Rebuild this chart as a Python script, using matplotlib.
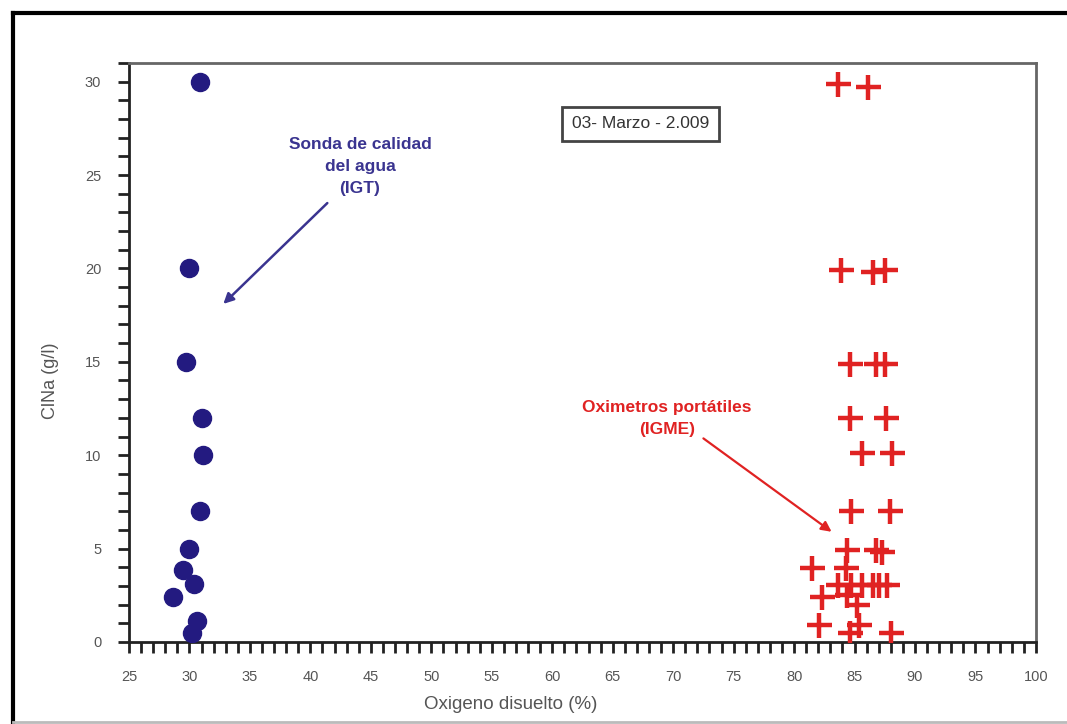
import matplotlib
matplotlib.use("Agg")
import matplotlib.pyplot as plt
from matplotlib.lines import Line2D
from matplotlib.ticker import MultipleLocator

plt.rcParams["font.family"] = ["Liberation Sans Narrow", "Liberation Sans", "DejaVu Sans"]

# Sonda de calidad del agua (IGT)
igt_oxygen = [30.9, 30.0, 29.7, 31.0, 31.1, 30.9, 30.0, 29.5, 30.4, 28.6, 30.6, 30.2]
igt_clna = [30.0, 20.0, 15.0, 12.0, 10.0, 7.0, 5.0, 3.85, 3.1, 2.4, 1.1, 0.5]

# Oximetros portatiles (IGME)
igme_oxygen = [83.6, 86.1,
               83.9, 86.5, 87.5,
               84.6, 86.8, 87.5,
               84.6, 87.6,
               85.6, 88.1,
               84.7, 87.9,
               84.4, 86.8, 87.3,
               81.5, 84.3,
               83.6, 84.7, 85.6, 86.5, 87.0, 87.7,
               82.3, 84.4, 85.2,
               82.1, 85.4, 84.6, 88.0]
igme_clna = [29.9, 29.7,
             19.9, 19.8, 19.9,
             14.9, 14.9, 14.9,
             12.0, 12.0,
             10.1, 10.1,
             7.0, 7.0,
             4.9, 4.9, 4.8,
             3.95, 3.95,
             3.05, 3.05, 3.05, 3.05, 3.05, 3.05,
             2.4, 2.5, 2.0,
             0.9, 0.9, 0.5, 0.5]

navy = "#231a80"
label_blue = "#3a3490"
red = "#e02222"
gray = "#555555"

fig = plt.figure(figsize=(10.67, 7.24), dpi=100)
ax = fig.add_axes([0.1209, 0.1133, 0.8500, 0.7997])

ax.plot(igt_oxygen, igt_clna, "o", ms=13, color=navy, mec=navy, zorder=3)
ax.plot(igme_oxygen, igme_clna, "+", ms=18, mew=3.2, color=red, zorder=3)

ax.set_xlim(25, 100)
ax.set_ylim(0, 31)
ax.xaxis.set_major_locator(MultipleLocator(5))
ax.xaxis.set_minor_locator(MultipleLocator(1))
ax.yaxis.set_major_locator(MultipleLocator(5))
ax.yaxis.set_minor_locator(MultipleLocator(1))
ax.tick_params(which="both", direction="out", length=8, width=2, color="#222222",
               labelcolor=gray, labelsize=10.5, top=False, right=False)
ax.tick_params(axis="x", pad=12)
ax.tick_params(axis="y", pad=12)
for side in ("left", "bottom"):
    ax.spines[side].set_linewidth(2)
    ax.spines[side].set_color("#222222")
for side in ("top", "right"):
    ax.spines[side].set_linewidth(2)
    ax.spines[side].set_color("#666666")

ax.set_xlabel("Oxigeno disuelto (%)", fontsize=13.5, color=gray)
ax.xaxis.set_label_coords(0.421, -0.093)
ax.set_ylabel("ClNa (g/l)", fontsize=13, color=gray)
ax.yaxis.set_label_coords(-0.077, 0.452)

# annotations: label text + arrow
ax.text(44.1, 25.45, "Sonda de calidad\ndel agua\n(IGT)", ha="center", va="center",
        fontsize=12.5, fontweight="bold", color=label_blue, linespacing=1.6)
ax.annotate("", xy=(32.8, 18.1), xytext=(41.4, 23.5),
            arrowprops=dict(arrowstyle="-|>", color=label_blue, lw=1.8,
                            mutation_scale=15, shrinkA=0, shrinkB=0))

ax.text(69.5, 11.95, "Oximetros portátiles\n(IGME)", ha="center", va="center",
        fontsize=12.5, fontweight="bold", color=red, linespacing=1.6)
ax.annotate("", xy=(83.1, 5.9), xytext=(72.5, 10.9),
            arrowprops=dict(arrowstyle="-|>", color=red, lw=1.6,
                            mutation_scale=15, shrinkA=0, shrinkB=0))

ax.text(67.3, 27.75, "03- Marzo - 2.009", ha="center", va="center", fontsize=12.5,
        color="#333333",
        bbox=dict(boxstyle="square,pad=0.55", fc="white", ec="#444444", lw=2))

# outer frame
fig.add_artist(Line2D([13 / 1067, 13 / 1067], [1 - 13 / 724, 0.002], color="black", lw=3))
fig.add_artist(Line2D([13 / 1067, 1.0], [1 - 13 / 724, 1 - 13 / 724], color="black", lw=3))
fig.add_artist(Line2D([13 / 1067, 1.0], [0.003, 0.003], color="#bbbbbb", lw=2))

fig.savefig("out.png", dpi=100)
